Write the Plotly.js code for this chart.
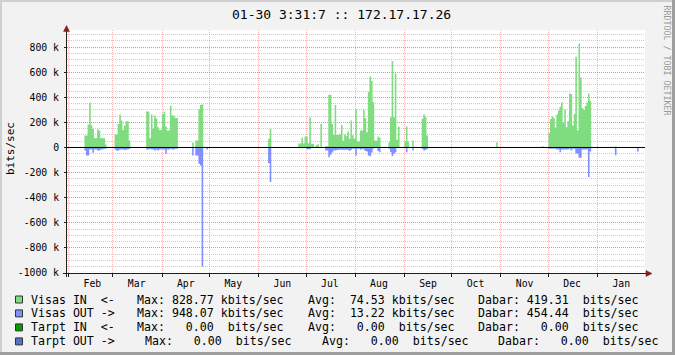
<!DOCTYPE html>
<html>
<head>
<meta charset="utf-8">
<script src="https://cdn.plot.ly/plotly-3.0.1.min.js"></script>
<style>
html,body{margin:0;padding:0;background:#f2f2f2;}
#chart{width:675px;height:355px;}
</style>
</head>
<body>
<div id="chart"></div>
<script>
// ---------- DATA ----------
const chartTitle = '01-30 3:31:7 :: 172.17.17.26';
const yTitle = 'bits/sec';
const watermark = 'RRDTOOL / TOBI OETIKER';

// daily samples (kbit/s); IN drawn upward, OUT drawn downward; days not listed are 0
const days = [
 '2010-02-11','2010-02-12','2010-02-13','2010-02-14','2010-02-15','2010-02-16','2010-02-17','2010-02-18','2010-02-19','2010-02-20','2010-02-21','2010-02-22','2010-02-23','2010-02-24',
 '2010-03-02','2010-03-03','2010-03-04','2010-03-05','2010-03-06','2010-03-07','2010-03-08','2010-03-09','2010-03-10','2010-03-11',
 '2010-03-22','2010-03-23','2010-03-24','2010-03-25','2010-03-26','2010-03-27','2010-03-28','2010-03-29','2010-03-30','2010-03-31',
 '2010-04-01','2010-04-02','2010-04-03','2010-04-04','2010-04-05','2010-04-06','2010-04-07','2010-04-08','2010-04-09','2010-04-10',
 '2010-04-20','2010-04-22','2010-04-23','2010-04-24','2010-04-25','2010-04-26','2010-04-29',
 '2010-06-07','2010-06-08',
 '2010-06-26','2010-06-27','2010-06-28','2010-06-29','2010-06-30',
 '2010-07-01','2010-07-02','2010-07-03','2010-07-04','2010-07-05','2010-07-07','2010-07-08','2010-07-10',
 '2010-07-13','2010-07-14','2010-07-15','2010-07-16','2010-07-17','2010-07-18','2010-07-19','2010-07-20','2010-07-21','2010-07-22',
 '2010-07-23','2010-07-24','2010-07-25','2010-07-26','2010-07-27','2010-07-28','2010-07-29','2010-07-30','2010-07-31',
 '2010-08-01','2010-08-02','2010-08-03','2010-08-04','2010-08-05','2010-08-06','2010-08-07','2010-08-08','2010-08-09','2010-08-10',
 '2010-08-11','2010-08-12','2010-08-13','2010-08-14','2010-08-15','2010-08-16',
 '2010-08-22','2010-08-23','2010-08-24','2010-08-25','2010-08-26','2010-08-27','2010-08-28',
 '2010-09-01','2010-09-02','2010-09-03','2010-09-06','2010-09-12','2010-09-13','2010-09-14','2010-09-15',
 '2010-10-29','2010-11-27',
 '2010-12-01','2010-12-02','2010-12-03','2010-12-04','2010-12-05','2010-12-06','2010-12-07','2010-12-08','2010-12-09','2010-12-10',
 '2010-12-11','2010-12-12','2010-12-13','2010-12-14','2010-12-15','2010-12-16','2010-12-17','2010-12-18','2010-12-19','2010-12-20',
 '2010-12-21','2010-12-22','2010-12-23','2010-12-24','2010-12-25','2010-12-26','2010-12-27',
 '2011-01-12','2011-01-26'
];
const visasIn = [
 95,95,182,357,178,148,74,74,145,135,74,74,74,24,
 103,103,188,262,214,140,175,209,209,55,
 286,286,74,262,151,254,230,161,140,140,
 267,286,167,135,135,333,254,254,235,235,
 40,55,55,307,338,344,0,
 69,148,
 32,32,77,32,87,
 87,34,240,29,29,18,26,190,
 10,10,420,420,188,100,339,100,100,106,
 180,53,106,90,127,69,214,98,69,
 307,48,48,135,135,301,233,122,444,566,
 529,360,56,53,87,77,
 42,240,690,240,590,61,167,
 48,167,48,56,228,262,240,95,
 42,10,
 116,227,246,235,160,262,294,325,360,193,
 302,161,209,431,426,175,267,722,135,828.77,
 558,315,299,330,360,431,373,
 10,0
];
const visasOut = [
 24,63,63,16,16,42,16,16,24,24,16,16,10,10,
 16,24,24,16,16,16,20,16,16,10,
 16,16,10,16,16,24,16,24,16,16,
 16,16,50,16,16,10,16,16,10,10,
 63,63,63,130,143,948.07,16,
 125,275,
 0,0,0,0,0,
 14,14,14,0,0,0,0,0,
 24,24,77,58,40,24,24,20,18,18,
 18,18,18,18,18,29,18,10,10,
 63,10,10,18,10,16,29,32,63,69,
 40,10,0,0,29,37,
 10,37,69,50,37,0,0,
 0,37,0,24,10,24,18,12,
 0,0,
 10,10,10,10,10,16,16,37,16,16,
 16,16,16,10,24,10,10,45,50,82,
 82,16,16,16,16,235,32,
 61,32
];
const rangeStart = '2010-01-31';
const rangeEnd = '2011-01-31';

// axis ticks
const monthLabels = ['Feb','Mar','Apr','May','Jun','Jul','Aug','Sep','Oct','Nov','Dec','Jan'];
const monthLabelDates = ['2010-02-16','2010-03-16','2010-04-16','2010-05-16','2010-06-16','2010-07-16','2010-08-16','2010-09-16','2010-10-16','2010-11-16','2010-12-16','2011-01-16'];
const yTickValues = [800000,600000,400000,200000,0,-200000,-400000,-600000,-800000,-1000000];
const yTickLabels = ['800 k','600 k','400 k','200 k','0','-200 k','-400 k','-600 k','-800 k','-1000 k'];

// legend
const legendNames = ['Visas IN  <-','Visas OUT ->','Tarpt IN  <-','Tarpt OUT ->'];
const legendColors = ['#7fdc7f','#8090ff','#00a000','#5474cc'];
const legendMax = [828.77, 948.07, 0.00, 0.00];
const legendMaxUnit = ['k','k',' ',' '];
const legendAvg = [74.53, 13.22, 0.00, 0.00];
const legendAvgUnit = ['k','k',' ',' '];
const legendDabar = [419.31, 454.44, 0.00, 0.00];
const legendDabarUnit = [' ',' ',' ',' '];

// ---------- LAYOUT HELPERS ----------
const L = 67, T = 30, W = 578, H = 243, FW = 675, FH = 355;
const fx = p => (p - L) / W;
const fy = p => (T + H - p) / H;
const MONO = 'DejaVu Sans Mono, monospace';
const nb = s => s.replace(/ /g, '\u00a0');
const num = v => { let s = v.toFixed(2); while (s.length < 6) s = ' ' + s; return s; };

// build full daily step series (RRD-style AREA) from the sparse lists
function stepSeries(vals, sign) {
  const map = {};
  days.forEach((d, i) => { map[d] = vals[i]; });
  const xs = [], ys = [];
  const start = new Date(rangeStart + 'T00:00:00Z'), end = new Date(rangeEnd + 'T00:00:00Z');
  for (let t = start.getTime(); t <= end.getTime(); t += 86400000) {
    const key = new Date(t).toISOString().slice(0, 10);
    xs.push(key);
    ys.push(sign * (map[key] || 0) * 1000);
  }
  return {xs, ys};
}
const sIn = stepSeries(visasIn, 1);
const sOut = stepSeries(visasOut, -1);

const traces = [
  {type:'scatter', mode:'lines', x:sIn.xs, y:sIn.ys, line:{shape:'hv', width:0, color:legendColors[0]},
   fill:'tozeroy', fillcolor:legendColors[0], hoverinfo:'skip', showlegend:false},
  {type:'scatter', mode:'lines', x:sOut.xs, y:sOut.ys, line:{shape:'hv', width:0, color:legendColors[1]},
   fill:'tozeroy', fillcolor:legendColors[1], hoverinfo:'skip', showlegend:false}
];

const shapes = [];
const annotations = [];
// frame shading
shapes.push({type:'rect', xref:'paper', yref:'paper', x0:fx(0), x1:fx(FW), y0:fy(0), y1:fy(2), fillcolor:'#cfcfcf', line:{width:0}});
shapes.push({type:'rect', xref:'paper', yref:'paper', x0:fx(0), x1:fx(2), y0:fy(0), y1:fy(FH), fillcolor:'#cfcfcf', line:{width:0}});
shapes.push({type:'rect', xref:'paper', yref:'paper', x0:fx(0), x1:fx(FW), y0:fy(FH-3), y1:fy(FH), fillcolor:'#9e9e9e', line:{width:0}});
shapes.push({type:'rect', xref:'paper', yref:'paper', x0:fx(FW-3), x1:fx(FW), y0:fy(0), y1:fy(FH), fillcolor:'#9e9e9e', line:{width:0}});
// zero line
shapes.push({type:'line', xref:'paper', yref:'y', x0:0, x1:1, y0:0, y1:0, line:{color:'#000000', width:1}, layer:'above'});
// axes lines and arrows
shapes.push({type:'line', xref:'paper', yref:'paper', x0:fx(66.5), x1:fx(66.5), y0:fy(277), y1:fy(30), line:{color:'#1f1f1f', width:1}, layer:'above'});
shapes.push({type:'line', xref:'paper', yref:'paper', x0:fx(63), x1:fx(647), y0:fy(273.5), y1:fy(273.5), line:{color:'#1f1f1f', width:1}, layer:'above'});
shapes.push({type:'path', xref:'paper', yref:'paper',
  path:`M ${fx(63.5)} ${fy(31.5)} L ${fx(69.5)} ${fy(31.5)} L ${fx(66.5)} ${fy(25.5)} Z`,
  fillcolor:'#801f1f', line:{color:'#801f1f', width:0.5}, layer:'above'});
shapes.push({type:'path', xref:'paper', yref:'paper',
  path:`M ${fx(646)} ${fy(270.5)} L ${fx(646)} ${fy(276.5)} L ${fx(652)} ${fy(273.5)} Z`,
  fillcolor:'#801f1f', line:{color:'#801f1f', width:0.5}, layer:'above'});

// title, axis title, watermark
annotations.push({xref:'paper', yref:'paper', x:fx(341), y:fy(14), xanchor:'center', yanchor:'middle',
  text:nb(chartTitle), showarrow:false, font:{family:MONO, size:13, color:'#000'}, borderpad:0, borderwidth:0});
annotations.push({xref:'paper', yref:'paper', x:fx(10), y:fy(149), xanchor:'center', yanchor:'middle', textangle:-90,
  text:yTitle, showarrow:false, font:{family:MONO, size:11, color:'#000'}, borderpad:0, borderwidth:0});
annotations.push({xref:'paper', yref:'paper', x:fx(666.5), y:fy(60), xanchor:'center', yanchor:'middle', textangle:90,
  text:nb(watermark), showarrow:false, font:{family:MONO, size:8.3, color:'#9a9a9a'}, borderpad:0, borderwidth:0});

// legend
const rowY = [299.5, 313.4, 327.4, 341.4];
const segX = [[137.3,308.3,477.7],[137.3,308.3,477.7],[137.3,308.3,477.7],[145,321.7,498.3]];
const lf = {family:MONO, size:11.6, color:'#000'};
for (let i = 0; i < 4; i++) {
  const cy = rowY[i];
  shapes.push({type:'rect', xref:'paper', yref:'paper', x0:fx(15.5), x1:fx(22.5), y0:fy(cy-3.5), y1:fy(cy+3.5),
    fillcolor:legendColors[i], line:{color:'#333', width:1}});
  const pieces = [
    [30.7, legendNames[i]],
    [segX[i][0], 'Max: ' + num(legendMax[i]) + ' ' + legendMaxUnit[i] + 'bits/sec'],
    [segX[i][1], 'Avg: ' + num(legendAvg[i]) + ' ' + legendAvgUnit[i] + 'bits/sec'],
    [segX[i][2], 'Dabar: ' + num(legendDabar[i]) + ' ' + legendDabarUnit[i] + 'bits/sec']
  ];
  pieces.forEach(p => annotations.push({xref:'paper', yref:'paper', x:fx(p[0]), y:fy(cy), xanchor:'left', yanchor:'middle',
    text:nb(p[1]), showarrow:false, font:lf, borderpad:0, borderwidth:0}));
}

const majorGrid = 'rgba(222,79,79,0.42)';
const minorGrid = 'rgba(143,143,143,0.45)';

const layout = {
  width: FW, height: FH, autosize:false,
  margin:{l:L, r:FW-L-W, t:T, b:FH-T-H, pad:0},
  paper_bgcolor:'#f2f2f2', plot_bgcolor:'#ffffff',
  showlegend:false,
  xaxis:{type:'date', range:[rangeStart, rangeEnd], tickmode:'array', tickvals:monthLabelDates, ticktext:monthLabels,
    showgrid:false, zeroline:false, showline:false, ticks:'', ticklabelstandoff:3,
    tickfont:{family:MONO, size:9.8, color:'#000'},
    minor:{dtick:'M1', tick0:'2010-01-01', showgrid:true, gridcolor:majorGrid, griddash:'1px,1px', gridwidth:1,
      ticks:'outside', ticklen:3, tickcolor:'#1f1f1f', tickwidth:1},
    fixedrange:true},
  yaxis:{range:[-1000000, 936000], tickmode:'array', tickvals:yTickValues, ticktext:yTickLabels,
    showgrid:true, gridcolor:majorGrid, griddash:'1px,1px', gridwidth:1, zeroline:false, showline:false,
    ticks:'outside', ticklen:2, tickcolor:'#1f1f1f', ticklabelstandoff:3,
    tickfont:{family:MONO, size:9.8, color:'#000'},
    minor:{dtick:50000, tick0:0, showgrid:true, gridcolor:minorGrid, griddash:'1px,1px', gridwidth:1},
    fixedrange:true},
  shapes: shapes,
  annotations: annotations
};

Plotly.newPlot('chart', traces, layout, {displayModeBar:false, staticPlot:true});
</script>
</body>
</html>
